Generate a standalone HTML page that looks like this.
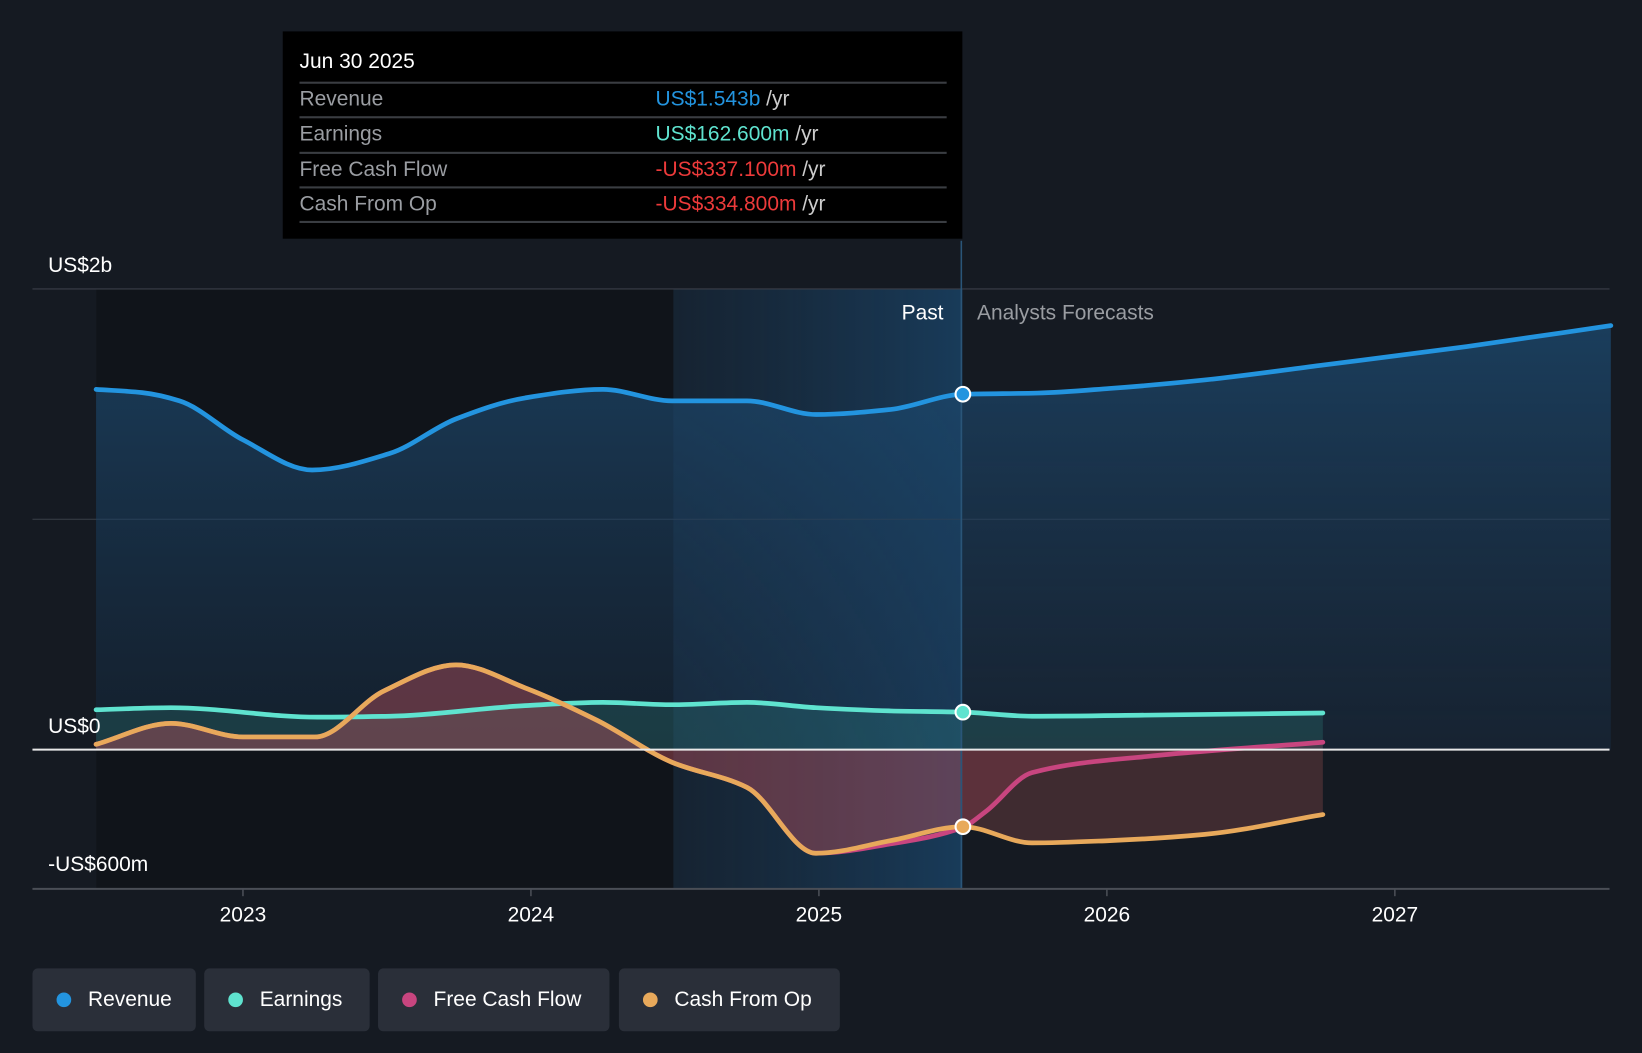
<!DOCTYPE html>
<html><head><meta charset="utf-8">
<style>
html,body{margin:0;padding:0;background:#151a22;width:1642px;height:1048px;overflow:hidden;font-family:"Liberation Sans",sans-serif;}
#wrap{position:absolute;left:0;top:0;width:1568px;height:1001px;transform-origin:0 0;transform:scale(1.04719,1.04695);}
svg text{font-family:"Liberation Sans",sans-serif;}
.leg{position:absolute;top:925px;height:60px;background:#2a2f39;border-radius:5px;color:#fff;font-size:20px;line-height:60px;box-sizing:border-box;padding-left:53px;}
.leg i{position:absolute;left:23px;top:23px;width:14px;height:14px;border-radius:50%;}
#tip{position:absolute;left:270px;top:30px;width:649px;height:198px;background:#000;color:#fff;font-size:20px;}
.row{position:absolute;left:16px;width:618px;height:33px;border-top:2px solid #3a3d42;}
.row .l{position:absolute;left:0;top:4px;color:#9a9da2;}
.row .v{position:absolute;left:340px;top:4px;color:#ccc;}
</style></head><body>
<div id="wrap">
<svg id="chart" width="1568" height="1001">
<defs>
<linearGradient id="revg" x1="0" y1="0" x2="0" y2="1"><stop offset="0" stop-color="#1d4a70" stop-opacity="0.75"/><stop offset="1" stop-color="#1b3550" stop-opacity="0.35"/></linearGradient>
<linearGradient id="hl" x1="0" y1="0" x2="1" y2="0"><stop offset="0" stop-color="#1a3a58" stop-opacity="0.3"/><stop offset="1" stop-color="#1a4a72" stop-opacity="0.7"/></linearGradient>
</defs>
<rect x="92" y="276" width="551" height="573" fill="#10141a"/>
<rect x="643" y="276" width="276" height="573" fill="url(#hl)"/>
<g id="grid"></g>
<g id="areas"></g>
<g id="lines"></g>
<line x1="918" y1="230" x2="918" y2="849" stroke="#2a5578" stroke-width="1.5"/>
<text x="901" y="305" fill="#fff" font-size="20" text-anchor="end">Past</text>
<text x="933" y="305" fill="#9a9da2" font-size="20">Analysts Forecasts</text>
<g id="markers"></g>
<g id="axis"></g>
</svg>
<div id="tip">
<div style="position:absolute;left:16px;top:18px;">Jun 30 2025</div>
<div class="row" style="top:48px"><span class="l">Revenue</span><span class="v"><span style="color:#2394df">US$1.543b</span> /yr</span></div>
<div class="row" style="top:81px"><span class="l">Earnings</span><span class="v"><span style="color:#5fe3cf">US$162.600m</span> /yr</span></div>
<div class="row" style="top:115px"><span class="l">Free Cash Flow</span><span class="v"><span style="color:#ec3a3a">-US$337.100m</span> /yr</span></div>
<div class="row" style="top:148px"><span class="l">Cash From Op</span><span class="v"><span style="color:#ec3a3a">-US$334.800m</span> /yr</span></div>
<div class="row" style="top:181px;height:0"></div>
</div>
<div class="leg" style="left:31px;width:156px"><i style="background:#2394df"></i>Revenue</div>
<div class="leg" style="left:195px;width:158px"><i style="background:#5fe3cf"></i>Earnings</div>
<div class="leg" style="left:361px;width:221px"><i style="background:#c8457f"></i>Free Cash Flow</div>
<div class="leg" style="left:591px;width:211px"><i style="background:#e8a95b"></i>Cash From Op</div>
</div>
<script>
const revDates=[2022.49,2022.65,2022.78,2023.0,2023.24,2023.51,2023.74,2023.98,2024.25,2024.49,2024.75,2024.99,2025.25,2025.5,2025.76,2026.01,2026.34,2026.74,2027.25,2027.75];
const revVals=[1564,1550,1514,1345,1214,1286,1436,1527,1564,1514,1514,1455,1477,1543,1548,1568,1605,1668,1750,1841];
const earnDates=[2022.49,2022.75,2023.26,2023.51,2023.98,2024.25,2024.49,2024.75,2024.99,2025.25,2025.5,2025.74,2026.16,2026.75];
const earnVals=[173,182,141,145,191,205,195,205,182,168,162.6,145,150,159];
const fcfDates=[2022.49,2022.75,2023.0,2023.25,2023.49,2023.74,2023.98,2024.23,2024.49,2024.75,2024.99,2025.25,2025.5,2025.58,2025.74,2026.16,2026.75];
const fcfVals=[23,114,55,55,255,368,268,127,-55,-164,-450,-409,-337.1,-268,-100,-27,32];
const cfoDates=[2022.49,2022.75,2023.0,2023.25,2023.49,2023.74,2023.98,2024.23,2024.49,2024.75,2024.99,2025.25,2025.5,2025.74,2026.01,2026.34,2026.75];
const cfoVals=[23,114,55,55,255,368,268,127,-55,-164,-450,-395,-334.8,-405,-395,-368,-282];
const yTickVals=[2000,1000,0,-600];
const yTickLabels=["US$2b","","US$0","-US$600m"];
const xTickVals=[2023,2024,2025,2026,2027];
const xTickLabels=["2023","2024","2025","2026","2027"];
const NS='http://www.w3.org/2000/svg';
const X=d=>232+(d-2023)*275;
const Y=v=>716-v*0.22;
function el(t,a,p){const e=document.createElementNS(NS,t);for(const k in a)e.setAttribute(k,a[k]);document.getElementById(p).appendChild(e);return e;}
function smooth(p){
  const n=p.length,dx=[],s=[],m=[];
  for(let i=0;i<n-1;i++){dx[i]=p[i+1][0]-p[i][0];s[i]=(p[i+1][1]-p[i][1])/dx[i];}
  m[0]=s[0];m[n-1]=s[n-2];
  for(let i=1;i<n-1;i++){m[i]=(s[i-1]*s[i]<=0)?0:3*(dx[i-1]+dx[i])/((2*dx[i]+dx[i-1])/s[i-1]+(dx[i]+2*dx[i-1])/s[i]);}
  let d='M'+p[0][0]+','+p[0][1];
  for(let i=0;i<n-1;i++){const h=dx[i]/3;d+=' C'+(p[i][0]+h)+','+(p[i][1]+m[i]*h)+' '+(p[i+1][0]-h)+','+(p[i+1][1]-m[i+1]*h)+' '+p[i+1][0]+','+p[i+1][1];}
  return d;
}
function pts(ds,vs){return ds.map((d,i)=>[X(d),Y(vs[i])]);}
yTickVals.forEach((v,i)=>{
  if(v!==-600&&v!==0){const g=el('line',{x1:31,x2:1537,y1:Y(v),y2:Y(v),stroke:'#3a3f48','stroke-width':1},'grid');
  
  }
  if(yTickLabels[i]){const t=el('text',{x:46,y:Y(v)-16,fill:'#fff','font-size':20},'axis');t.textContent=yTickLabels[i];
  
  }
});
const zl=el('line',{x1:31,x2:1537,y1:Y(0),y2:Y(0),stroke:'#e8e8e8','stroke-width':2},'axis');


const ax=el('line',{x1:31,x2:1537,y1:849,y2:849,stroke:'#4a4e56','stroke-width':2},'axis');


xTickVals.forEach((v,i)=>{
  const l=el('line',{x1:X(v),x2:X(v),y1:849,y2:856,stroke:'#4a4e56','stroke-width':1.5},'axis');
  
  
  const t=el('text',{x:X(v),y:880,fill:'#fff','font-size':20,'text-anchor':'middle'},'axis');t.textContent=xTickLabels[i];
  
  
});
function area(ds,vs,fill,op,name){
  const p=pts(ds,vs);const d=smooth(p)+' L'+p[p.length-1][0]+','+Y(0)+' L'+p[0][0]+','+Y(0)+' Z';
  const a=el('path',{d:d,fill:fill,'fill-opacity':op},'areas');
  
  
}
function line(ds,vs,col,name){
  const l=el('path',{d:smooth(pts(ds,vs)),fill:'none',stroke:col,'stroke-width':4.5,'stroke-linecap':'round'},'lines');
  
  
}
area(revDates,revVals,'url(#revg)',1,'revenue-area');
area(earnDates,earnVals,'#3fb5a8',0.18,'earnings-area');
area(fcfDates,fcfVals,'#b03a5a',0.25,'fcf-area');
area(cfoDates,cfoVals,'#c0605a',0.25,'cfo-area');
line(revDates,revVals,'#2394df','revenue-line');
line(earnDates,earnVals,'#5fe3cf','earnings-line');
line(fcfDates,fcfVals,'#c8457f','fcf-line');
line(cfoDates,cfoVals,'#e8a95b','cfo-line');
[[revVals[13],'#2394df','revenue-marker'],[earnVals[10],'#5fe3cf','earnings-marker'],[cfoVals[12],'#e8a95b','cfo-marker']].forEach(m=>{
  const c=el('circle',{cx:X(2025.5),cy:Y(m[0]),r:7,fill:m[1],stroke:'#fff','stroke-width':2},'markers');
  
  
});
</script>
</body></html>
